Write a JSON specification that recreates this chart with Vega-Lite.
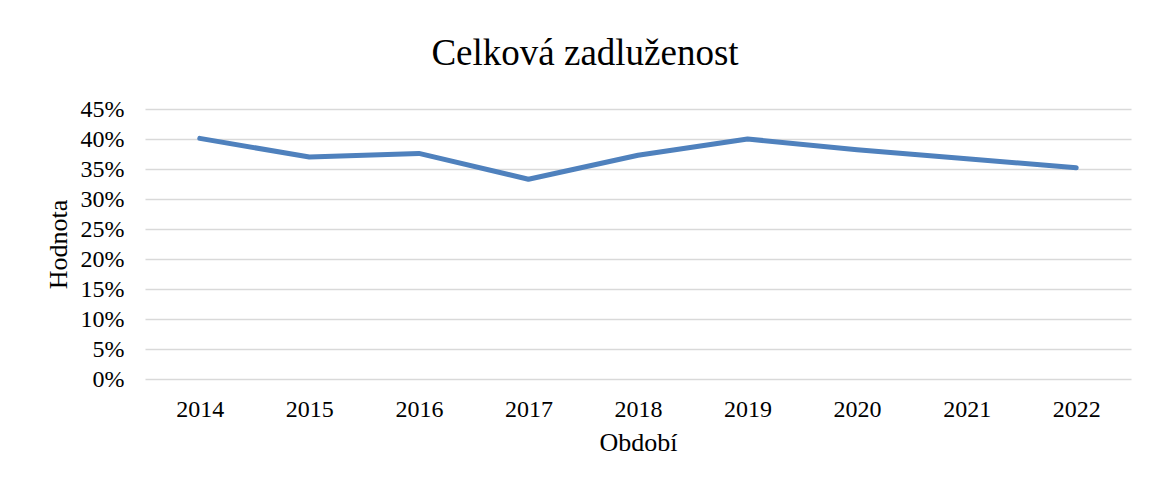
{
  "$schema": "https://vega.github.io/schema/vega-lite/v6.json",
  "width": 986,
  "height": 270,
  "autosize": {"type": "none"},
  "padding": {"left": 145, "top": 109, "right": 18, "bottom": 105},
  "background": "white",
  "title": {
    "text": "Celková zadluženost",
    "font": "Liberation Serif",
    "fontSize": 37,
    "fontWeight": "normal",
    "color": "black",
    "anchor": "middle",
    "dx": -53,
    "offset": 24
  },
  "data": {
    "values": [
      {"Období": "2014", "Hodnota": 0.401},
      {"Období": "2015", "Hodnota": 0.370},
      {"Období": "2016", "Hodnota": 0.376},
      {"Období": "2017", "Hodnota": 0.333},
      {"Období": "2018", "Hodnota": 0.373},
      {"Období": "2019", "Hodnota": 0.400},
      {"Období": "2020", "Hodnota": 0.382},
      {"Období": "2021", "Hodnota": 0.367},
      {"Období": "2022", "Hodnota": 0.352}
    ]
  },
  "mark": {"type": "line", "color": "#4f81bd", "strokeWidth": 5, "strokeCap": "round", "strokeJoin": "round"},
  "encoding": {
    "x": {
      "field": "Období",
      "type": "ordinal",
      "scale": {"type": "point", "padding": 0.5},
      "axis": {
        "title": "Období",
        "labelAngle": 0,
        "grid": false,
        "ticks": false,
        "domain": false,
        "labelPadding": 18,
        "titlePadding": 8
      }
    },
    "y": {
      "field": "Hodnota",
      "type": "quantitative",
      "scale": {"domain": [0, 0.45], "nice": false, "zero": true},
      "axis": {
        "title": "Hodnota",
        "format": ".0%",
        "values": [0, 0.05, 0.1, 0.15, 0.2, 0.25, 0.3, 0.35, 0.4, 0.45],
        "grid": true,
        "gridColor": "#d9d9d9",
        "gridWidth": 1.5,
        "ticks": false,
        "domain": false,
        "labelPadding": 21,
        "titlePadding": 9
      }
    }
  },
  "config": {
    "view": {"stroke": null},
    "axis": {
      "labelFont": "Liberation Serif",
      "labelFontSize": 24,
      "labelColor": "black",
      "titleFont": "Liberation Serif",
      "titleFontSize": 26,
      "titleFontWeight": "normal",
      "titleColor": "black"
    }
  }
}
